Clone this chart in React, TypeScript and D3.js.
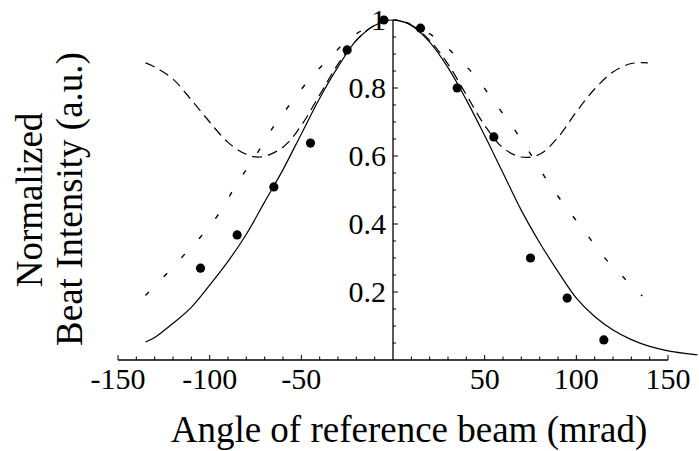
import React from 'react';
import * as d3 from 'd3';

// angle (mrad), normalized beat intensity
const measured: [number, number][] = [
    [-105, 0.27], [-85, 0.368], [-65, 0.509], [-45, 0.638], [-25, 0.912], [-5, 1.0],
    [15, 0.976], [35, 0.8], [55, 0.656], [75, 0.3], [95, 0.182], [115, 0.059],
];

const solidCurve: [number, number][] = [
    [-135, 0.053], [-130, 0.066], [-120, 0.108], [-110, 0.155], [-100, 0.22], [-90, 0.29],
    [-80, 0.37], [-70, 0.465], [-60, 0.56], [-50, 0.665], [-40, 0.77], [-30, 0.862],
    [-20, 0.94], [-10, 0.984], [0, 1.0], [10, 0.984], [20, 0.935], [30, 0.86],
    [40, 0.765], [50, 0.66], [60, 0.55], [70, 0.44], [80, 0.345], [90, 0.26],
    [100, 0.182], [110, 0.128], [120, 0.088], [130, 0.06], [140, 0.04], [150, 0.027],
    [160, 0.019], [166, 0.015],
];

const dottedCurve: [number, number][] = [
    [-135, 0.19], [-125, 0.245], [-115, 0.303], [-105, 0.362], [-95, 0.43], [-85, 0.52],
    [-75, 0.6], [-65, 0.688], [-55, 0.76], [-45, 0.83], [-35, 0.886], [-25, 0.94],
    [-15, 0.975], [-5, 0.996], [0, 1.0], [5, 0.996], [15, 0.975], [25, 0.94],
    [35, 0.89], [45, 0.834], [55, 0.76], [65, 0.688], [75, 0.606], [85, 0.52],
    [95, 0.445], [105, 0.375], [115, 0.303], [125, 0.247], [136, 0.188],
];

const dashedCurve: [number, number][] = [
    [-135, 0.874], [-130, 0.862], [-120, 0.826], [-110, 0.765], [-100, 0.7], [-90, 0.64],
    [-80, 0.605], [-72, 0.597], [-60, 0.626], [-50, 0.69], [-40, 0.78], [-30, 0.87],
    [-20, 0.94], [-10, 0.985], [0, 1.0], [10, 0.985], [20, 0.94], [30, 0.87],
    [40, 0.78], [50, 0.69], [60, 0.624], [70, 0.597], [80, 0.605], [90, 0.655],
    [100, 0.73], [110, 0.797], [120, 0.847], [130, 0.872], [139, 0.874],
];

const xTicks = [-150, -100, -50, 50, 100, 150];
const yTicks = [0.2, 0.4, 0.6, 0.8, 1];

const W = 699;
const H = 451;

const App: React.FC = () => {
    const x = d3.scaleLinear().domain([-150, 150]).range([118, 668]);
    const y = d3.scaleLinear().domain([0, 1]).range([360, 20]);

    const line = d3.line<[number, number]>()
        .x((d) => x(d[0]))
        .y((d) => y(d[1]))
        .curve(d3.curveCatmullRom);

    const xMinor = d3.range(-150, 151, 10).filter((v) => v !== 0);
    const yMinor = d3.range(0.05, 1.001, 0.05);
    const font = '"Liberation Serif", "Times New Roman", serif';

    return (
        <svg width={W} height={H} style={{ position: 'absolute', left: 0, top: 0, background: '#fff' }}>
            <g fill="none" stroke="#000">
                <path d={line(solidCurve) || ''} strokeWidth={1.2} />
                <path d={line(dottedCurve) || ''} strokeWidth={1.4} strokeDasharray="5,21" />
                <path d={line(dashedCurve) || ''} strokeWidth={1.2} strokeDasharray="10,6" />
            </g>

            {/* axes */}
            <g stroke="#000" strokeWidth={1.3}>
                <line x1={x(-150)} x2={x(150)} y1={y(0)} y2={y(0)} />
                <line x1={x(0)} x2={x(0)} y1={y(0)} y2={y(1)} />
                {xMinor.map((v) => (
                    <line key={'xt' + v} x1={x(v)} x2={x(v)} y1={y(0)}
                        y2={y(0) - (v % 50 === 0 ? 5 : 3.5)} strokeWidth={1} />
                ))}
                {yMinor.map((v, i) => (
                    <line key={'yt' + i} x1={x(0)} y1={y(v)} y2={y(v)}
                        x2={x(0) + ((i + 1) % 4 === 0 ? 5 : 3)} strokeWidth={1} />
                ))}
            </g>

            <g fontFamily={font} fontSize={30} fill="#000">
                {xTicks.map((v) => (
                    <text key={'xl' + v} x={x(v)} y={389} textAnchor="middle">{v}</text>
                ))}
                {yTicks.map((v) => (
                    <text key={'yl' + v} x={386} y={y(v) + 10} textAnchor="end">{v}</text>
                ))}
            </g>

            {measured.map((d, i) => (
                <circle key={'p' + i} cx={x(d[0])} cy={y(d[1])} r={4.6} fill="#000" />
            ))}

            <g fontFamily={font} fontSize={37} fill="#000">
                <text x={409} y={442} textAnchor="middle">Angle of reference beam (mrad)</text>
                <text transform="translate(42,200) rotate(-90)" textAnchor="middle">Normalized</text>
                <text transform="translate(82,199) rotate(-90)" textAnchor="middle">Beat Intensity (a.u.)</text>
            </g>
        </svg>
    );
};

export default App;
